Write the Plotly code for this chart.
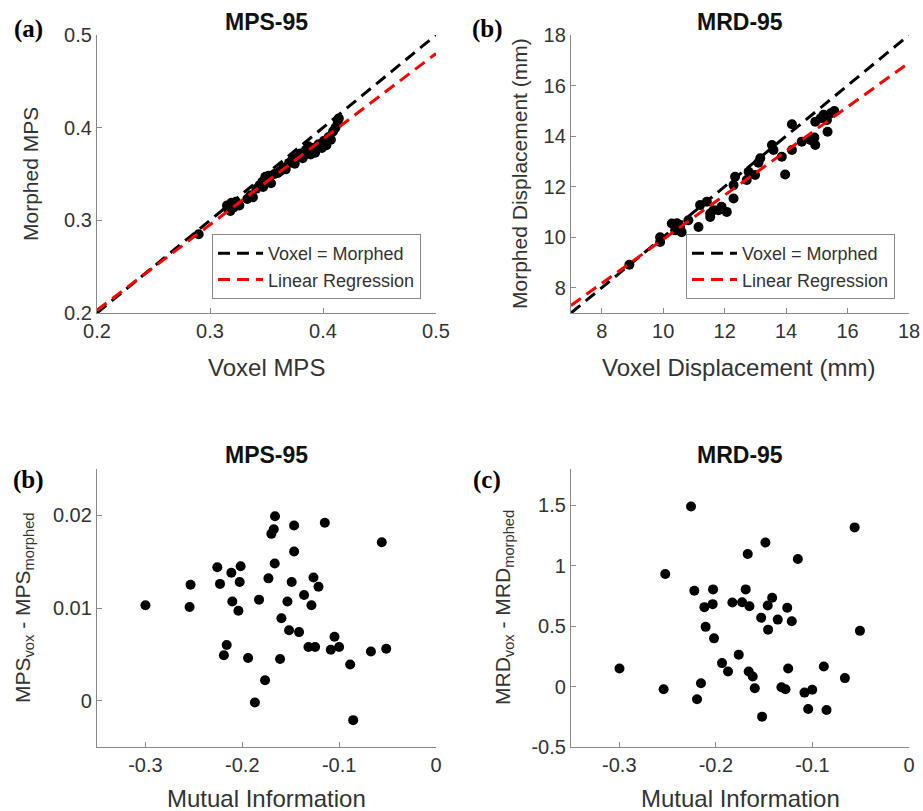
import plotly.graph_objects as go

# ---------------- data ----------------
# (a) MPS-95: voxel vs morphed
mps_voxel = [0.290, 0.315, 0.316, 0.318, 0.319, 0.321, 0.323, 0.326, 0.333, 0.336, 0.338, 0.341, 0.344, 0.347, 0.349,
             0.350, 0.352, 0.354, 0.357, 0.360, 0.362, 0.365, 0.367, 0.370, 0.373, 0.375, 0.377, 0.380, 0.382, 0.385,
             0.387, 0.389, 0.391, 0.393, 0.396, 0.399, 0.401, 0.403, 0.405, 0.407, 0.409, 0.411, 0.413, 0.414]
mps_morphed = [0.285, 0.316, 0.312, 0.310, 0.319, 0.314, 0.320, 0.316, 0.323, 0.327, 0.325, 0.334, 0.338, 0.336, 0.347,
               0.343, 0.348, 0.340, 0.350, 0.351, 0.353, 0.357, 0.355, 0.362, 0.366, 0.361, 0.368, 0.372, 0.367, 0.376,
               0.380, 0.371, 0.378, 0.373, 0.382, 0.378, 0.386, 0.381, 0.390, 0.387, 0.396, 0.400, 0.405, 0.410]
mps_identity_x = [0.2, 0.5]
mps_identity_y = [0.2, 0.5]
mps_reg_x = [0.2, 0.5]
mps_reg_y = [0.203, 0.480]

# (b) MRD-95: voxel vs morphed displacement (mm)
mrd_voxel = [8.90, 9.90, 9.90, 10.28, 10.39, 10.45, 10.55, 10.60, 10.82, 11.15, 11.20, 11.42, 11.53, 11.53, 11.64,
             11.80, 11.90, 12.07, 12.29, 12.29, 12.34, 12.72, 12.78, 12.99, 13.10, 13.16, 13.54, 13.59, 13.86, 13.97,
             14.19, 14.19, 14.51, 14.79, 14.92, 14.95, 14.95, 15.13, 15.22, 15.33, 15.35, 15.45, 15.57]
mrd_morphed = [8.91, 10.00, 9.81, 10.54, 10.27, 10.55, 10.40, 10.20, 10.67, 10.40, 11.27, 11.40, 10.80, 10.94, 11.07,
               11.07, 11.20, 11.00, 11.53, 12.06, 12.39, 12.26, 12.59, 12.46, 12.95, 13.12, 13.65, 13.45, 13.18, 12.48,
               14.47, 13.45, 13.78, 13.85, 13.94, 13.65, 14.57, 14.71, 14.84, 14.64, 14.17, 14.90, 14.99]
mrd_identity_x = [7, 18]
mrd_identity_y = [7, 18]
mrd_reg_x = [7, 18]
mrd_reg_y = [7.30, 16.90]

# (b, bottom) MPS difference vs mutual information
mi_mps = [-0.300, -0.2534, -0.2544, -0.2258, -0.2230, -0.2113, -0.2017, -0.2027, -0.2103, -0.2040, -0.1827,
          -0.1730, -0.1665, -0.1700, -0.1675, -0.1662, -0.1465, -0.1148, -0.1465, -0.0560, -0.1490, -0.1534,
          -0.1265, -0.1213, -0.1362, -0.1286, -0.1596, -0.1517, -0.1414, -0.1048, -0.2161, -0.1317, -0.1248,
          -0.1086, -0.1000, -0.0672, -0.0514, -0.2190, -0.1940, -0.1610, -0.0886, -0.1765, -0.1870, -0.0855]
mps_diff = [0.0103, 0.0125, 0.0101, 0.0144, 0.0126, 0.0138, 0.0145, 0.0128, 0.0107, 0.0097, 0.0109,
            0.0132, 0.0148, 0.0180, 0.0185, 0.0199, 0.0189, 0.0192, 0.0161, 0.0171, 0.0128, 0.0107,
            0.0133, 0.0123, 0.0114, 0.0103, 0.0089, 0.0076, 0.0074, 0.0069, 0.0060, 0.0058, 0.0058,
            0.0055, 0.0058, 0.0053, 0.0056, 0.0049, 0.0046, 0.0045, 0.0039, 0.0022, -0.0002, -0.0021]

# (c) MRD difference vs mutual information
mi_mrd = [-0.2257, -0.0563, -0.1487, -0.1670, -0.1151, -0.2524, -0.2223, -0.2029, -0.1691, -0.1417, -0.2119,
          -0.2033, -0.1829, -0.1728, -0.1652, -0.1463, -0.1261, -0.1531, -0.1359, -0.1214, -0.0508, -0.2106,
          -0.1459, -0.2019, -0.1763, -0.2998, -0.2541, -0.2154, -0.2195, -0.1936, -0.1874, -0.1660, -0.1618,
          -0.1597, -0.1521, -0.1321, -0.1279, -0.1251, -0.1082, -0.1002, -0.1044, -0.0882, -0.0854, -0.0664]
mrd_diff = [1.490, 1.317, 1.192, 1.097, 1.056, 0.931, 0.793, 0.804, 0.804, 0.735, 0.657,
            0.682, 0.696, 0.698, 0.665, 0.671, 0.652, 0.569, 0.554, 0.540, 0.461, 0.494,
            0.471, 0.399, 0.264, 0.150, -0.022, 0.028, -0.105, 0.194, 0.125, 0.125, 0.083,
            -0.014, -0.249, -0.005, -0.022, 0.150, -0.050, -0.027, -0.185, 0.166, -0.194, 0.070]

# tick labels
mps_ticks = [0.2, 0.3, 0.4, 0.5]
mps_ticktext = ["0.2", "0.3", "0.4", "0.5"]
mrd_ticks = [8, 10, 12, 14, 16, 18]
mrd_ticktext = ["8", "10", "12", "14", "16", "18"]
mi_ticks = [-0.3, -0.2, -0.1, 0]
mi_ticktext = ["-0.3", "-0.2", "-0.1", "0"]
mpsd_ticks = [0, 0.01, 0.02]
mpsd_ticktext = ["0", "0.01", "0.02"]
mrdd_ticks = [-0.5, 0, 0.5, 1, 1.5]
mrdd_ticktext = ["-0.5", "0", "0.5", "1", "1.5"]

# ---------------- figure ----------------
W, H = 923, 811
FONT = "Liberation Sans, Arial, sans-serif"
AXC = "#8a8a8a"
TXT = "#333333"


def px(x):
    return x / W


def py(y):
    return 1 - y / H


fig = go.Figure()
mk = dict(color="black", size=10)

fig.add_trace(go.Scatter(x=mps_voxel, y=mps_morphed, mode="markers", marker=mk, showlegend=False,
                         xaxis="x", yaxis="y"))
fig.add_trace(go.Scatter(x=mrd_voxel, y=mrd_morphed, mode="markers", marker=mk, showlegend=False,
                         xaxis="x2", yaxis="y2"))
fig.add_trace(go.Scatter(x=mi_mps, y=mps_diff, mode="markers", marker=mk, showlegend=False,
                         xaxis="x3", yaxis="y3"))
fig.add_trace(go.Scatter(x=mi_mrd, y=mrd_diff, mode="markers", marker=mk, showlegend=False,
                         xaxis="x4", yaxis="y4"))

dash = "12px,7px"
fig.add_trace(go.Scatter(x=mps_identity_x, y=mps_identity_y, mode="lines", name="Voxel = Morphed",
                         line=dict(color="black", width=3, dash=dash), xaxis="x", yaxis="y", legend="legend"))
fig.add_trace(go.Scatter(x=mps_reg_x, y=mps_reg_y, mode="lines", name="Linear Regression",
                         line=dict(color="#ff0000", width=3, dash=dash), xaxis="x", yaxis="y", legend="legend"))
fig.add_trace(go.Scatter(x=mrd_identity_x, y=mrd_identity_y, mode="lines", name="Voxel = Morphed",
                         line=dict(color="black", width=3, dash=dash), xaxis="x2", yaxis="y2", legend="legend2"))
fig.add_trace(go.Scatter(x=mrd_reg_x, y=mrd_reg_y, mode="lines", name="Linear Regression",
                         line=dict(color="#ff0000", width=3, dash=dash), xaxis="x2", yaxis="y2", legend="legend2"))


def axis(domain, rng, tv, tt, anchor):
    return dict(domain=domain, range=rng, tickvals=tv, ticktext=tt, anchor=anchor,
                showline=True, linecolor=AXC, linewidth=1.3, mirror=False,
                ticks="inside", ticklen=5, tickcolor=AXC, tickwidth=1,
                showgrid=False, zeroline=False, automargin=False,
                tickfont=dict(family=FONT, size=20, color=TXT))


xL = [px(97), px(436)]
xR = [px(571), px(909)]
yT = [py(313), py(35)]
yB = [py(747), py(469)]

legend_style = dict(font=dict(family=FONT, size=18, color=TXT), bgcolor="white",
                    bordercolor=AXC, borderwidth=1, xanchor="right", yanchor="bottom",
                    itemwidth=45, tracegroupgap=0)

annotations = []


def ann(text, x, y, size=24, angle=0, family=FONT, color=TXT):
    annotations.append(dict(text=text, x=px(x), y=py(y), xref="paper", yref="paper",
                            showarrow=False, textangle=angle, xanchor="center", yanchor="middle",
                            font=dict(family=family, size=size, color=color)))


# titles
ann("<b>MPS-95</b>", 266, 22, size=23, color="#111111")
ann("<b>MRD-95</b>", 740, 22, size=23, color="#111111")
ann("<b>MPS-95</b>", 266, 455, size=23, color="#111111")
ann("<b>MRD-95</b>", 740, 455, size=23, color="#111111")
# panel labels
SERIF = "Liberation Serif, Times New Roman, serif"
ann("<b>(a)</b>", 28, 29, size=25, family=SERIF, color="black")
ann("<b>(b)</b>", 487, 29, size=25, family=SERIF, color="black")
ann("<b>(b)</b>", 29, 480, size=25, family=SERIF, color="black")
ann("<b>(c)</b>", 487, 480, size=25, family=SERIF, color="black")
# axis titles
ann("Voxel MPS", 266, 367)
ann("Morphed MPS", 30, 174, size=21, angle=-90)
ann("Voxel Displacement (mm)", 738, 367)
ann("Morphed Displacement (mm)", 519, 174, size=21, angle=-90)
ann("Mutual Information", 266, 798)
ann("MPS<sub>vox</sub> - MPS<sub>morphed</sub>", 24, 608, size=21, angle=-90)
ann("Mutual Information", 740, 798)
ann("MRD<sub>vox</sub> - MRD<sub>morphed</sub>", 504, 608, size=21, angle=-90)

fig.update_layout(
    width=W, height=H, margin=dict(l=0, r=0, t=0, b=0, autoexpand=False),
    paper_bgcolor="white", plot_bgcolor="white",
    xaxis=axis(xL, [0.2, 0.5], mps_ticks, mps_ticktext, "y"),
    yaxis=axis(yT, [0.2, 0.5], mps_ticks, mps_ticktext, "x"),
    xaxis2=axis(xR, [7, 18], mrd_ticks, mrd_ticktext, "y2"),
    yaxis2=axis(yT, [7, 18], mrd_ticks, mrd_ticktext, "x2"),
    xaxis3=axis(xL, [-0.35, 0], mi_ticks, mi_ticktext, "y3"),
    yaxis3=axis(yB, [-0.005, 0.025], mpsd_ticks, mpsd_ticktext, "x3"),
    xaxis4=axis(xR, [-0.35, 0], mi_ticks, mi_ticktext, "y4"),
    yaxis4=axis(yB, [-0.5, 1.8], mrdd_ticks, mrdd_ticktext, "x4"),
    legend=dict(x=px(421), y=py(299), **legend_style),
    legend2=dict(x=px(895), y=py(299), **legend_style),
    annotations=annotations,
    showlegend=True,
)

fig.write_html("out.html", config={"displayModeBar": False},
               post_script="document.body.style.margin='0';document.body.style.overflow='hidden';")
